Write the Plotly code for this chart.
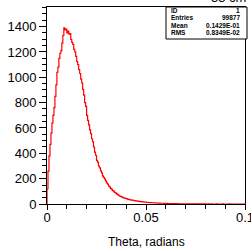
import plotly.graph_objects as go

# Histogram: theta (radians), bin width 0.0005 from 0 to 0.1
BIN_WIDTH = 0.0005
COUNTS = [
    120, 260, 380, 470, 560, 640, 700, 760, 850, 940,
    1040, 1080, 1150, 1190, 1210, 1270, 1330, 1390, 1375, 1380,
    1350, 1365, 1340, 1345, 1300, 1275, 1260, 1220, 1200, 1165,
    1125, 1100, 1060, 1030, 985, 955, 905, 860, 800, 770,
    700, 660, 625, 585, 555, 515, 490, 450, 410, 385,
    345, 330, 300, 285, 262, 245, 222, 210, 198, 182,
    166, 158, 142, 135, 124, 118, 106, 102, 92, 88,
    80, 76, 68, 63, 60, 56, 52, 49, 46, 44,
    42, 39, 37, 35, 33, 31, 30, 28, 27, 25,
    24, 22, 21, 20, 19, 18, 17, 16, 15, 15,
    14, 13, 12, 12, 11, 11, 10, 10, 9, 9,
    8, 8, 7, 7, 7, 6, 6, 6, 5, 5,
    5, 5, 4, 4, 4, 4, 3, 3, 3, 3,
    3, 3, 2, 2, 2, 2, 2, 2, 2, 2,
    2, 1, 2, 1, 1, 1, 1, 1, 1, 1,
    1, 1, 1, 1, 0, 1, 1, 0, 1, 0,
    1, 0, 0, 1, 0, 0, 1, 0, 0, 0,
    0, 1, 0, 0, 0, 0, 0, 1, 0, 0,
    0, 0, 0, 0, 1, 0, 0, 0, 0, 0,
    0, 0, 0, 0, 0, 0, 0, 0, 0, 0,
]
X_TICKS = [0, 0.05, 0.1]
X_TICK_LABELS = ["0", "0.05", "0.1"]
Y_TICKS = [0, 200, 400, 600, 800, 1000, 1200, 1400]
Y_TICK_LABELS = ["0", "200", "400", "600", "800", "1000", "1200", "1400"]
STAT_LABELS = ["ID", "Entries", "Mean", "RMS"]
STAT_VALUES = ["1", "99877", "0.1429E-01", "0.8349E-02"]
X_TITLE = "Theta, radians"
TOP_TEXT = "33 cm"

edges = [i * BIN_WIDTH for i in range(len(COUNTS) + 1)]
xs = [0.0] + edges
ys = [0] + COUNTS + [COUNTS[-1]]

W, H = 251, 248
L, R, T, B = 47, 6, 7, 44
pw, ph = W - L - R, H - T - B

def px(x):
    return (x - L) / pw

def py(y):
    return (H - B - y) / ph

FONT = "Liberation Sans, Arial, sans-serif"

fig = go.Figure()
fig.add_trace(go.Scatter(x=xs, y=ys, mode="lines", line=dict(color="#ff0000", width=1.2, shape="hv"),
                         hoverinfo="skip", showlegend=False))

fig.update_xaxes(range=[0, 0.100001], tickvals=X_TICKS, ticktext=X_TICK_LABELS,
                 ticks="outside", ticklen=5, tickwidth=1, tickcolor="black",
                 ticklabeloverflow="allow", automargin=False, ticklabelstandoff=-4,
                 minor=dict(dtick=0.01, ticks="outside", ticklen=4, tickcolor="black", tickwidth=1),
                 showline=True, linecolor="black", linewidth=1, mirror=True,
                 showgrid=False, zeroline=False,
                 tickfont=dict(family=FONT, size=13, color="black"))
fig.update_yaxes(range=[0, 1555], tickvals=Y_TICKS, ticktext=Y_TICK_LABELS,
                 ticks="outside", ticklen=7, tickwidth=1, tickcolor="black",
                 automargin=False,
                 minor=dict(dtick=50, ticks="outside", ticklen=4, tickcolor="black", tickwidth=1),
                 showline=True, linecolor="black", linewidth=1, mirror=True,
                 showgrid=False, zeroline=False,
                 tickfont=dict(family=FONT, size=13, color="black"))

# x-axis title
fig.add_annotation(x=px(146), y=py(242), xref="paper", yref="paper", text=X_TITLE,
                   showarrow=False, xanchor="center", yanchor="middle",
                   font=dict(family=FONT, size=12, color="black"))

# stats box
bx0, bx1, by0, by1 = 166, 247, 7, 39
fig.add_shape(type="rect", xref="paper", yref="paper",
              x0=px(bx0), x1=px(bx1), y0=py(by1), y1=py(by0),
              line=dict(color="black", width=1), fillcolor="white", layer="above")
row_y = [10.5, 18, 25.5, 33]
for lab, val, ry in zip(STAT_LABELS, STAT_VALUES, row_y):
    fig.add_annotation(x=px(169), y=py(ry), xref="paper", yref="paper", text=f"<b>{lab}</b>",
                       showarrow=False, xanchor="left", yanchor="middle",
                       font=dict(family=FONT, size=6.5, color="black"))
    fig.add_annotation(x=px(242), y=py(ry), xref="paper", yref="paper", text=f"<b>{val}</b>",
                       showarrow=False, xanchor="right", yanchor="middle",
                       font=dict(family=FONT, size=6.5, color="black"))

fig.add_annotation(x=px(228), y=py(-3), xref="paper", yref="paper", text=TOP_TEXT,
                   showarrow=False, xanchor="center", yanchor="middle",
                   font=dict(family=FONT, size=13, color="black"))

fig.update_layout(width=W, height=H, margin=dict(l=L, r=R, t=T, b=B, pad=0, autoexpand=False),
                  plot_bgcolor="white", paper_bgcolor="white")
fig.write_html("out.html", config={"displayModeBar": False},
               post_script="document.body.style.margin='0';document.body.style.overflow='hidden';")
